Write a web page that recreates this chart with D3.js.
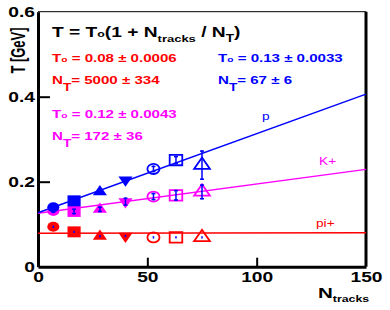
<!DOCTYPE html>
<html>
<head>
<meta charset="utf-8">
<script src="https://cdn.jsdelivr.net/npm/d3@7"></script>
<style>
  body { margin: 0; background: #fff; }
  text { font-family: "Liberation Sans", Arial, sans-serif; }
</style>
</head>
<body>
<div id="chart"></div>
<script>
// Data
var nTracks = [7, 16.5, 28.3, 40, 52.8, 63.1, 75];

var tPion   = [0.094, 0.082, 0.0715, 0.072, 0.069, 0.069, 0.069];
var errPion = [0.001, 0.001, 0.001, 0.001, 0.001, 0.001, 0.001];

var tKaon   = [0.131, 0.130, 0.135, 0.153, 0.165, 0.168, 0.176];
var errKaon = [0.003, 0.005, 0.005, 0.008, 0.007, 0.011, 0.016];

var tProton   = [0.140, 0.155, 0.176, 0.204, 0.230, 0.251, 0.239];
var errProton = [0.003, 0.004, 0.004, 0.005, 0.006, 0.008, 0.033];

// fitted lines T = T0(1 + N/NT), value at N = 0 and N = 150
var fitN      = [0, 150];
var fitPion   = [0.079, 0.080];
var fitKaon   = [0.126, 0.229];
var fitProton = [0.127, 0.406];

var fitT0 = ["0.08 \u00b1 0.0006", "0.12 \u00b1 0.0043", "0.13 \u00b1 0.0033"];
var fitNT = ["5000 \u00b1 334", "172 \u00b1 36", "67 \u00b1 6"];
var seriesNames = ["pi+", "K+", "p"];

var xTicks = [0, 50, 100, 150];
var yTicks = [0, 0.2, 0.4, 0.6];

// Layout
var width = 390;
var height = 310;
var SX = 1.37; // the original plot has horizontally stretched glyphs

var red = "#ff0000", magenta = "#ff00ff", blue = "#0000ff";

var x = d3.scaleLinear().domain([0, 150]).range([38, 366]);
var y = d3.scaleLinear().domain([0, 0.6]).range([266.7, 11.7]);

var svg = d3.select("#chart").append("svg")
    .attr("width", width)
    .attr("height", height);

// frame: thin top, thick right
svg.append("line")
    .attr("x1", x(0)).attr("x2", x(150))
    .attr("y1", y(0.6)).attr("y2", y(0.6))
    .attr("stroke", "#000").attr("stroke-width", 1);
svg.append("line")
    .attr("x1", x(150)).attr("x2", x(150))
    .attr("y1", y(0.6)).attr("y2", y(0))
    .attr("stroke", "#000").attr("stroke-width", 3);

function fmtY(d) { return d == 0 ? "0" : d3.format(".1f")(d); }

var gx = svg.append("g")
    .attr("transform", "translate(0," + y(0) + ")")
    .call(d3.axisBottom(x).tickValues(xTicks).tickSizeInner(-9).tickSizeOuter(0).tickFormat(d3.format("d")));
var gy = svg.append("g")
    .attr("transform", "translate(" + x(0) + ",0)")
    .call(d3.axisLeft(y).tickValues(yTicks).tickSizeInner(-12).tickSizeOuter(0).tickFormat(fmtY));

[gx, gy].forEach(function(g) {
  g.select(".domain").attr("stroke-width", 3);
  g.selectAll(".tick line").attr("stroke-width", 2);
  g.selectAll(".tick text")
      .attr("font-family", "Liberation Sans, Arial, sans-serif")
      .attr("font-weight", "bold")
      .attr("font-size", 14)
      .attr("fill", "#000");
});
gx.selectAll(".tick text")
    .attr("y", 0).attr("dy", 0)
    .attr("transform", "translate(0,15) scale(" + SX + ",1)");
gx.selectAll(".tick").filter(function(d) { return d == 150; }).select("line").remove();
gy.selectAll(".tick").filter(function(d) { return d == 0 || d == 0.6; }).select("line").remove();
gy.selectAll(".tick text")
    .attr("x", 0).attr("dy", 0)
    .attr("transform", "translate(-3,5) scale(" + SX + ",1)");

// fitted lines
var line = d3.line()
    .x(function(d) { return x(d[0]); })
    .y(function(d) { return y(d[1]); });

var series = [
  { t: tPion,   e: errPion,   fit: fitPion,   color: red },
  { t: tKaon,   e: errKaon,   fit: fitKaon,   color: magenta },
  { t: tProton, e: errProton, fit: fitProton, color: blue }
];

series.forEach(function(s) {
  svg.append("path")
      .datum(fitN.map(function(n, i) { return [n, s.fit[i]]; }))
      .attr("d", line)
      .attr("fill", "none")
      .attr("stroke", s.color)
      .attr("stroke-width", 1.5);
});

// markers: filled circle, square, triangle, down triangle, then open ones
var markerType = [d3.symbolCircle, d3.symbolSquare, d3.symbolTriangle, d3.symbolTriangle,
                  d3.symbolCircle, d3.symbolSquare, d3.symbolTriangle];
var markerSize = [80, 120, 60, 60, 80, 110, 75];
var markerRot  = [0, 0, 0, 180, 0, 0, 0];
var markerOpen = [false, false, false, false, true, true, true];

series.forEach(function(s) {
  svg.append("g").selectAll("path")
      .data(nTracks)
    .enter().append("path")
      .attr("d", function(d, i) { return d3.symbol().type(markerType[i]).size(markerSize[i])(); })
      .attr("transform", function(d, i) {
        return "translate(" + x(d) + "," + y(s.t[i]) + ") scale(1.2,1) rotate(" + markerRot[i] + ")";
      })
      .attr("fill", function(d, i) { return markerOpen[i] ? "none" : s.color; })
      .attr("stroke", function(d, i) { return markerOpen[i] ? s.color : "none"; })
      .attr("stroke-width", 1.8)
      .attr("vector-effect", "non-scaling-stroke");
});

// error bars (drawn blue for every series)
series.forEach(function(s) {
  var g = svg.append("g").attr("stroke", blue).attr("stroke-width", 1.5);
  nTracks.forEach(function(n, i) {
    var cx = x(n), y1 = y(s.t[i] - s.e[i]), y2 = y(s.t[i] + s.e[i]);
    g.append("line").attr("x1", cx).attr("x2", cx).attr("y1", Math.max(y1, y2 + 0) + 0.8).attr("y2", y2 - 0.8);
    if (s.e[i] > 0.002) {
      g.append("line").attr("x1", cx - 2).attr("x2", cx + 2).attr("y1", y1).attr("y2", y1);
      g.append("line").attr("x1", cx - 2).attr("x2", cx + 2).attr("y1", y2).attr("y2", y2);
    }
  });
});

// rich text helper: parts = [{t, fs, dy}]
function richText(px, py, size, color, parts, weight) {
  var t = svg.append("text")
      .attr("transform", "translate(" + px + "," + py + ") scale(" + SX + ",1)")
      .attr("font-size", size)
      .attr("font-weight", weight || "bold")
      .attr("fill", color);
  var shift = 0;
  parts.forEach(function(p) {
    var want = p.dy || 0;
    var sp = t.append("tspan").text(p.t).attr("dy", want - shift);
    shift = want;
    if (p.fs) sp.attr("font-size", p.fs);
  });
  return t;
}

// formula
richText(52, 37, 14, "#000", [
  { t: "T = T" }, { t: "o", fs: 9 }, { t: "(1 + N" },
  { t: "tracks", fs: 9.5, dy: 5 }, { t: " / N" }, { t: "T", fs: 10, dy: 5 }, { t: ")" }
]);

var paramPos = [[52, 62, red], [52, 118, magenta], [218, 62, blue]];
paramPos.forEach(function(p, i) {
  richText(p[0], p[1], 11, p[2], [{ t: "T" }, { t: "o", fs: 7.5 }, { t: " = " + fitT0[i] }]);
  richText(p[0], p[1] + 21.5, 11, p[2], [{ t: "N" }, { t: "T", fs: 10, dy: 7 }, { t: "= " + fitNT[i] }]);
});

// series labels
var labelPos = [[316, 226.5, red], [319, 165, magenta], [262, 120, blue]];
labelPos.forEach(function(p, i) {
  richText(p[0], p[1], 10, p[2], [{ t: seriesNames[i] }], "normal");
});

// axis titles
richText(318, 298, 15, "#000", [{ t: "N" }, { t: "tracks", fs: 9, dy: 3.5 }]);

svg.append("text")
    .attr("transform", "translate(25,50.5) rotate(-90) scale(1,1.5)")
    .attr("text-anchor", "middle")
    .attr("font-size", 13)
    .attr("font-weight", "bold")
    .attr("fill", "#000")
    .text("T [GeV]");
</script>
</body>
</html>
